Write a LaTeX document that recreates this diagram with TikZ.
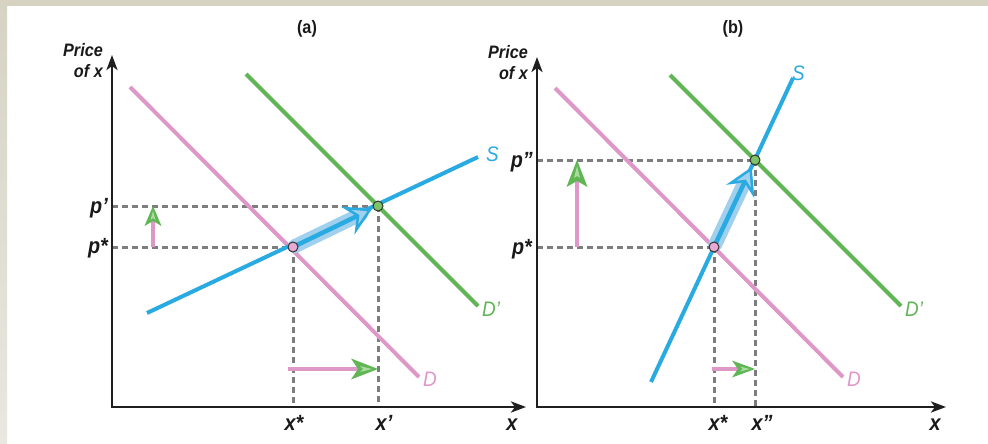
\documentclass[tikz,border=0pt]{standalone}
\usepackage{fontspec}
\setmainfont[FakeStretch=0.9]{Liberation Sans}
\usetikzlibrary{arrows.meta,calc}
\definecolor{sblue}{RGB}{41,171,226}
\definecolor{bandblue}{RGB}{160,208,238}
\definecolor{dpink}{RGB}{222,152,200}
\definecolor{dgreen}{RGB}{96,182,84}
\definecolor{lgreen}{RGB}{170,220,160}
\definecolor{dgray}{RGB}{125,125,125}
\definecolor{frametop}{RGB}{214,211,195}
\definecolor{framebot}{RGB}{232,232,224}
\definecolor{pinkdot}{RGB}{232,170,212}
\definecolor{greendot}{RGB}{125,196,104}
\begin{document}
\begin{tikzpicture}[x=1pt,y=-1pt,
  axis/.style={line width=2.8pt, draw=black!88, -{Stealth[length=15pt,width=11pt,inset=4pt]}},
  guide/.style={line width=3pt, dgray, dash pattern=on 6pt off 4pt},
  supply/.style={line width=4pt, sblue},
  demand/.style={line width=4pt, dpink},
  demandb/.style={line width=4pt, dgreen},
  band/.style={line width=14pt, bandblue, line cap=round},
  moveup/.style={line width=4.5pt, sblue, -{Stealth[length=27pt,width=31pt,inset=10pt,fill=bandblue,line width=2.5pt]}},
  shiftarrow/.style={line width=3.4pt, dpink},
  lab/.style={font=\fontsize{22}{24}\selectfont\bfseries\itshape, text=black!90, inner sep=0},
  ttl/.style={font=\fontsize{18}{20}\selectfont\bfseries, text=black!90, inner sep=0},
  ylab/.style={font=\fontsize{18}{21}\selectfont\bfseries\itshape, text=black!90, inner sep=0, align=right},
  clab/.style={font=\fontsize{21}{22}\selectfont\itshape, inner sep=0},
  dot/.style={circle, draw=black!80, line width=1pt, minimum size=10pt, inner sep=0},
]
\useasboundingbox (0,0) rectangle (988,444);
% frame
\fill[white] (0,0) rectangle (988,444);
\fill[frametop] (0,0) rectangle (988,6);
\shade[top color=frametop, bottom color=framebot] (0,0) rectangle (7,444);

% ================= panel (a) =================
\node[ttl] (ta) at (307,29) {(a)};
\coordinate (Oa) at (112,407);
\coordinate (Ya) at (112,55);
\coordinate (Xa) at (526,407);
\node[ylab, anchor=north east] (pla) at (103,43) {Price\\of \textit{x}};

\coordinate (ea) at (293,247);
\coordinate (fa) at (378,206);
\coordinate (pa1) at (112,247);
\coordinate (pa2) at (112,206);
\coordinate (xa1) at (293,407);
\coordinate (xa2) at (378,407);

\draw[guide] (pa1) -- (ea);
\draw[guide] (pa2) -- (fa);
\draw[guide] (ea) -- (xa1);
\draw[guide] (fa) -- (xa2);

% curves
\coordinate (Da1) at (130,87);
\coordinate (Da2) at (419,377);
\draw[demand] (Da1) -- (Da2);
\node[clab, text=dpink, anchor=base west] (Dla) at (423,386) {D};
\coordinate (Dpa1) at (246,74);
\coordinate (Dpa2) at (478,306);
\draw[demandb] (Dpa1) -- (Dpa2);
\node[clab, text=dgreen, anchor=base west] (Dpla) at (482,316) {D’};
\coordinate (Sa1) at (147,313);
\coordinate (Sa2) at (478,157);
\draw[supply] (Sa1) -- (Sa2);
\node[clab, text=sblue, anchor=base west] (Sla) at (486,161) {S};

% movement along S
\draw[band] ($(ea)!0.02!(fa)$) -- ($(ea)!0.8!(fa)$);
\draw[moveup] (ea) -- ($(ea)!0.93!(fa)$);

% shift arrows
\coordinate (va1) at (153,247);
\coordinate (va2) at (153,206);
\draw[shiftarrow] (va1) -- ($(va2)+(0,15)$);
\fill[dgreen] (va2) -- ++(8.5,20) -- ++(-8.5,-5) -- ++(-8.5,5) -- cycle;
\fill[lgreen] ($(va2)+(0,5)$) -- ++(2.5,9) -- ++(-2.5,-2) -- ++(-2.5,2) -- cycle;
\coordinate (ha1) at (288,369);
\coordinate (ha2) at (378,369);
\draw[shiftarrow] (ha1) -- ($(ha2)+(-20,0)$);
\fill[dgreen] (ha2) -- ++(-27,-10.5) -- ++(7,10.5) -- ++(-7,10.5) -- cycle;
\fill[lgreen] ($(ha2)+(-6,0)$) -- ++(-12,-3) -- ++(3,3) -- ++(-3,3) -- cycle;

\draw[axis] (Oa) -- (Ya);
\draw[axis] ($(Oa)+(-1.4,0)$) -- (Xa);

\node[dot, fill=pinkdot] (dea) at (ea) {};
\node[dot, fill=greendot] (dfa) at (fa) {};

\node[lab, anchor=base east] (pap) at (108,213) {p’};
\node[lab, anchor=base east] (pas) at (108,253) {p*};
\node[lab, anchor=base] (xas) at (294,430) {x*};
\node[lab, anchor=base] (xap) at (384,430) {x’};
\node[lab, anchor=base] (xax) at (512,430) {x};

% ================= panel (b) =================
\node[ttl] (tb) at (733,29) {(b)};
\coordinate (Ob) at (537,407);
\coordinate (Yb) at (537,57);
\coordinate (Xb) at (946,407);
\node[ylab, anchor=north east] (plb) at (528,45) {Price\\of \textit{x}};

\coordinate (eb) at (714,247);
\coordinate (fb) at (755,160);
\coordinate (pb1) at (537,247);
\coordinate (pb2) at (537,160);
\coordinate (xb1) at (714,407);
\coordinate (xb2) at (755,407);

\draw[guide] (pb1) -- (eb);
\draw[guide] (pb2) -- (fb);
\draw[guide] (eb) -- (xb1);
\draw[guide] (fb) -- (xb2);

\coordinate (Db1) at (555,88);
\coordinate (Db2) at (843,377);
\draw[demand] (Db1) -- (Db2);
\node[clab, text=dpink, anchor=base west] (Dlb) at (847,386) {D};
\coordinate (Dpb1) at (670,75);
\coordinate (Dpb2) at (901,306);
\draw[demandb] (Dpb1) -- (Dpb2);
\node[clab, text=dgreen, anchor=base west] (Dplb) at (905,316) {D’};
\coordinate (Sb1) at (651,382);
\coordinate (Sb2) at (793,78);
\draw[supply] (Sb1) -- (Sb2);
\node[clab, text=sblue, anchor=base west] (Slb) at (792,81) {S};

\draw[band] ($(eb)!0.03!(fb)$) -- ($(eb)!0.75!(fb)$);
\draw[moveup] (eb) -- ($(eb)!0.92!(fb)$);

\coordinate (vb1) at (577,247);
\coordinate (vb2) at (577,160);
\draw[shiftarrow] (vb1) -- ($(vb2)+(0,20)$);
\fill[dgreen] (vb2) -- ++(10.5,27) -- ++(-10.5,-6) -- ++(-10.5,6) -- cycle;
\fill[lgreen] ($(vb2)+(0,6)$) -- ++(3,12) -- ++(-3,-2) -- ++(-3,2) -- cycle;
\coordinate (hb1) at (712,369);
\coordinate (hb2) at (755,369);
\draw[shiftarrow] (hb1) -- ($(hb2)+(-16,0)$);
\fill[dgreen] (hb2) -- ++(-23,-8.5) -- ++(6,8.5) -- ++(-6,8.5) -- cycle;
\fill[lgreen] ($(hb2)+(-5,0)$) -- ++(-10,-2.5) -- ++(2.5,2.5) -- ++(-2.5,2.5) -- cycle;

\draw[axis] (Ob) -- (Yb);
\draw[axis] ($(Ob)+(-1.4,0)$) -- (Xb);

\node[dot, fill=pinkdot] (deb) at (eb) {};
\node[dot, fill=greendot] (dfb) at (fb) {};

\node[lab, anchor=base east] (pbp) at (533,167) {p”};
\node[lab, anchor=base east] (pbs) at (532,254) {p*};
\node[lab, anchor=base] (xbs) at (718,430) {x*};
\node[lab, anchor=base] (xbp) at (762,430) {x”};
\node[lab, anchor=base] (xbx) at (935,430) {x};
\end{tikzpicture}
\end{document}
